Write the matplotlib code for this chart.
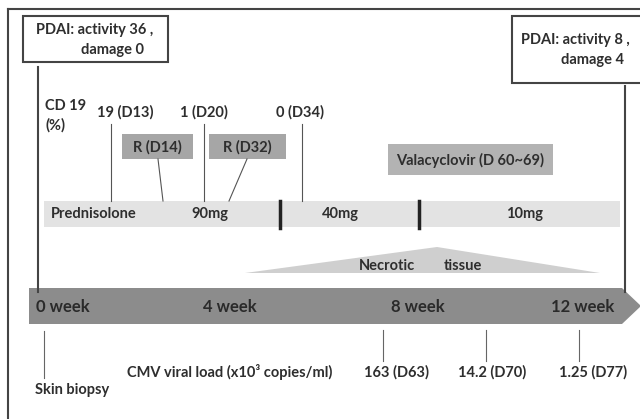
import matplotlib.pyplot as plt
from matplotlib.patches import Rectangle, Polygon

plt.rcParams["font.family"] = ["Lato", "DejaVu Sans"]
plt.rcParams["font.weight"] = "bold"

TXT = "#2e2e2e"
FS = 10.5

# content
pdai_start = ["PDAI: activity 36 ,", "damage 0"]
pdai_end = ["PDAI: activity 8 ,", "damage 4"]
cd19_labels = ["19 (D13)", "1 (D20)", "0 (D34)"]
cd19_x = [125, 204, 300]
cd19_line_x = [111, 204, 302]
rituximab = ["R (D14)", "R (D32)"]
dose_labels = ["90mg", "40mg", "10mg"]
dose_x = [210, 340, 525]
dose_breaks = [280, 419]
weeks = ["0 week", "4 week", "8 week", "12 week"]
week_x = [36, 230, 418, 583]
cmv_labels = ["163 (D63)", "14.2 (D70)", "1.25 (D77)"]
cmv_x = [397, 492, 593]
cmv_line_x = [383, 486, 579]

fig = plt.figure(figsize=(6.4, 4.19), dpi=100)
ax = fig.add_axes([0, 0, 1, 1])
ax.set_xlim(0, 640)
ax.set_ylim(419, 0)
ax.axis("off")

# outer frame
ax.plot([8, 640], [9, 9], color="#444444", lw=1.5)
ax.plot([8, 8], [9, 419], color="#444444", lw=1.5)

# PDAI boxes
ax.add_patch(Rectangle((23, 16), 145, 46, fc="white", ec="#444444", lw=1.5))
ax.text(36, 30, pdai_start[0], ha="left", va="center", fontsize=FS, color=TXT)
ax.text(144, 50, pdai_start[1], ha="right", va="center", fontsize=FS, color=TXT)
ax.add_patch(Rectangle((512, 16), 130, 67, fc="white", ec="#444444", lw=1.5))
ax.text(521, 40, pdai_end[0], ha="left", va="center", fontsize=FS, color=TXT)
ax.text(624, 60, pdai_end[1], ha="right", va="center", fontsize=FS, color=TXT)
ax.plot([38, 38], [67, 292], color="#444444", lw=1.5)
ax.plot([625, 625], [86, 292], color="#444444", lw=1.5)

# CD19
ax.text(45, 106, "CD 19", ha="left", va="center", fontsize=FS, color=TXT)
ax.text(45, 125, "(%)", ha="left", va="center", fontsize=FS, color=TXT)
for lab, x, lx in zip(cd19_labels, cd19_x, cd19_line_x):
    ax.text(x, 112, lab, ha="center", va="center", fontsize=FS, color=TXT)
    ax.plot([lx, lx], [124, 201], color="#555555", lw=0.8)

# rituximab boxes
for lab, (x0, x1), (ax0, ax1) in zip(rituximab, [(122, 193), (209, 286)],
                                     [(158, 163), (247, 229)]):
    ax.add_patch(Rectangle((x0, 134), x1 - x0, 25, fc="#a6a6a6", ec="none"))
    ax.text((x0 + x1) / 2, 147, lab, ha="center", va="center", fontsize=FS, color=TXT)
    ax.plot([ax0, ax1], [159, 201], color="#555555", lw=0.8)

# valacyclovir
ax.add_patch(Rectangle((388, 144), 165, 31, fc="#b3b3b3", ec="none"))
ax.text(470, 160, "Valacyclovir (D 60~69)", ha="center", va="center", fontsize=FS, color=TXT)

# prednisolone bar
ax.add_patch(Rectangle((44, 201), 576, 26, fc="#e3e3e3", ec="none"))
ax.text(51, 214, "Prednisolone", ha="left", va="center", fontsize=FS, color=TXT)
for lab, x in zip(dose_labels, dose_x):
    ax.text(x, 214, lab, ha="center", va="center", fontsize=FS, color=TXT)
for x in dose_breaks:
    ax.plot([x, x], [201, 228], color="#222222", lw=2.5)

# necrotic tissue
ax.add_patch(Polygon([(245, 273), (437, 247), (600, 273)], closed=True,
                     fc="#cfcfcf", ec="none"))
ax.text(387, 266, "Necrotic", ha="center", va="center", fontsize=FS, color=TXT)
ax.text(463, 266, "tissue", ha="center", va="center", fontsize=FS, color=TXT)

# time arrow
ax.add_patch(Polygon([(29, 288), (622, 288), (641, 306), (622, 324), (29, 324)],
                     closed=True, fc="#8c8c8c", ec="none"))
for i, (lab, x) in enumerate(zip(weeks, week_x)):
    ax.text(x, 307, lab, ha="left" if i == 0 else "center", va="center",
            fontsize=12, color="#2a2a2a")

# skin biopsy
ax.plot([44, 44], [331, 378], color="#666666", lw=0.8)
ax.text(35, 390, "Skin biopsy", ha="left", va="center", fontsize=FS, color=TXT)

# CMV
ax.text(127, 372, "CMV viral load (x10³ copies/ml)", ha="left", va="center",
        fontsize=FS, color=TXT)
for lab, x, lx in zip(cmv_labels, cmv_x, cmv_line_x):
    ax.plot([lx, lx], [330, 361], color="#666666", lw=0.8)
    ax.text(x, 372, lab, ha="center", va="center", fontsize=FS, color=TXT)

fig.savefig("out.png", dpi=100)
